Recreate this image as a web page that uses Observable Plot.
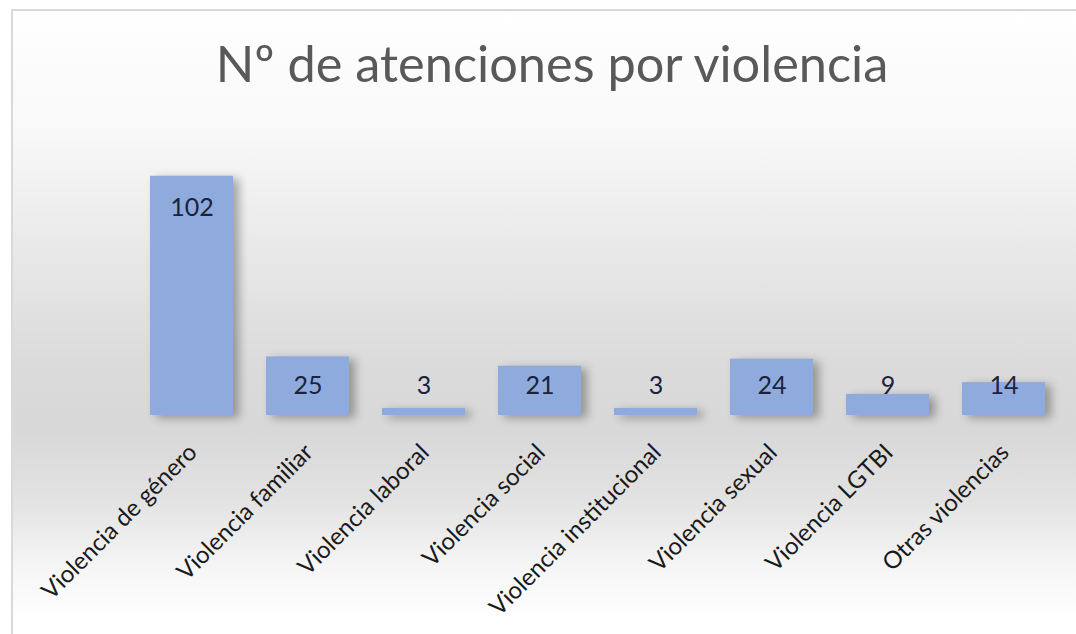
<!DOCTYPE html>
<html>
<head>
<meta charset="utf-8">
<script src="https://cdn.jsdelivr.net/npm/d3@7"></script>
<script src="https://cdn.jsdelivr.net/npm/@observablehq/plot@0.6"></script>
<style>
  html, body { margin: 0; padding: 0; background: #ffffff; overflow: hidden; }
  #wrap { position: relative; width: 1076px; height: 634px; overflow: hidden; background: #ffffff; }
  #box {
    position: absolute; left: 11px; top: 9px; width: 1100px; height: 680px;
    border: 2px solid #d9d9d9; box-sizing: border-box;
    background: linear-gradient(to bottom, #ffffff 0%, #f8f8f8 18%, #e8e8e8 36%, #dbdbdb 52%, #d8d8d8 62%, #e2e2e2 72%, #f5f5f5 82%, #ffffff 90%);
  }
  #title {
    position: absolute; left: 0; top: 33px; width: 1104px; text-align: center;
    font-family: Lato, "Open Sans", sans-serif; font-size: 50.5px; color: #595959; font-weight: 400;
    line-height: 60px; white-space: nowrap;
  }
  #chart { position: absolute; left: 0; top: 0; }
  #chart svg { background: transparent; overflow: visible; }
</style>
</head>
<body>
<div id="wrap">
  <div id="box"></div>
  <div id="title">Nº de atenciones por violencia</div>
  <div id="chart"></div>
</div>
<script>
const categories = [
  "Violencia de género",
  "Violencia familiar",
  "Violencia laboral",
  "Violencia social",
  "Violencia institucional",
  "Violencia sexual",
  "Violencia LGTBI",
  "Otras violencias"
];
const values = [102, 25, 3, 21, 3, 24, 9, 14];

const data = categories.map((c, i) => ({cat: c, value: values[i]}));
// data labels "inside end", clamped so small bars keep the label just above the baseline
const labelPos = d => Math.max(d.value - 13.4, 12.4);

const plot = Plot.plot({
  width: 1076,
  height: 634,
  marginLeft: 133,
  marginRight: 14,
  marginTop: 157,
  marginBottom: 219,
  style: {background: "transparent", overflow: "visible"},
  x: {type: "band", domain: categories, paddingInner: 0.285, paddingOuter: 0.1425, axis: null},
  y: {domain: [0, 110], axis: null},
  marks: [
    Plot.barY(data, {x: "cat", y: "value", fill: "#8faadc"}),
    Plot.text(data, {
      x: "cat", y: labelPos, text: d => String(d.value),
      fontSize: 25, fill: "#1a2340", fontFamily: "Lato, 'Open Sans', sans-serif"
    }),
    Plot.text(data, {
      x: "cat", y: () => 0, text: "cat", rotate: -45, textAnchor: "end",
      dx: 1, dy: 33, fontSize: 24, fill: "#1a1a1a", fontFamily: "Lato, 'Open Sans', sans-serif"
    })
  ]
});
document.getElementById("chart").appendChild(plot);
const barG = plot.querySelector('g[aria-label="bar"]');
if (barG) barG.style.filter = "drop-shadow(6px 3px 5px rgba(0,0,0,0.32))";
</script>
</body>
</html>
